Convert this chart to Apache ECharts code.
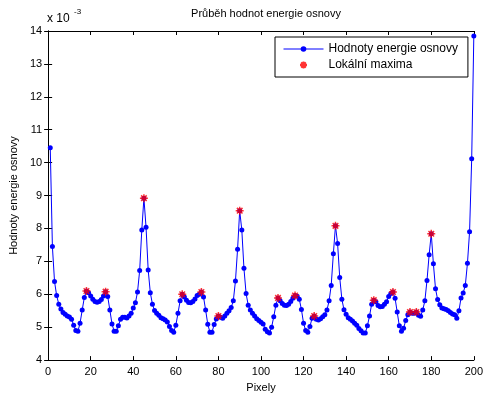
<!DOCTYPE html>
<html><head><meta charset="utf-8">
<script src="https://cdn.jsdelivr.net/npm/echarts@6/dist/echarts.min.js"></script>
<style>html,body{margin:0;padding:0;background:#fff}#c{width:486px;height:398px}</style>
</head><body><div id="c"></div>
<script>
// Energy values (units of 1e-3), pixel 1..200
const energy1 = [10.45,7.45,6.39,5.96,5.70,5.55,5.45,5.39,5.34,5.31,
  5.24,5.06,4.90,4.88,5.12,5.52,5.90,6.10,6.05,5.95,
  5.85,5.78,5.76,5.78,5.84,5.95,6.08,5.93,5.52,5.10,
  4.88,4.88,5.04,5.24,5.30,5.30,5.28,5.34,5.42,5.58,
  5.74,6.07,6.72,7.95,8.92,8.04,6.74,6.05,5.70,5.51];
const energy2 = [5.42,5.36,5.29,5.26,5.22,5.16,5.02,4.90,4.85,5.06,
  5.42,5.80,6.00,5.92,5.82,5.75,5.74,5.78,5.86,5.96,
  6.00,6.07,5.92,5.52,5.09,4.85,4.85,5.08,5.25,5.34,
  5.30,5.27,5.34,5.42,5.50,5.60,5.80,6.40,7.37,8.54,
  7.95,6.79,6.02,5.67,5.52,5.42,5.34,5.26,5.20,5.15];
const energy3 = [5.10,4.94,4.86,4.82,5.00,5.32,5.67,5.89,5.80,5.72,
  5.67,5.66,5.70,5.78,5.88,5.96,5.94,5.85,5.54,5.12,
  4.90,4.85,5.02,5.27,5.34,5.24,5.22,5.26,5.32,5.38,
  5.52,5.80,6.27,7.23,8.08,7.54,6.51,5.85,5.53,5.39,
  5.29,5.24,5.19,5.12,5.06,4.96,4.89,4.82,4.82,5.04];
const energy4 = [5.34,5.70,5.82,5.77,5.66,5.62,5.63,5.70,5.77,5.93,
  6.02,6.07,5.88,5.46,5.04,4.88,4.97,5.20,5.38,5.46,
  5.42,5.42,5.46,5.36,5.33,5.52,5.80,6.42,7.20,7.84,
  6.93,6.17,5.84,5.68,5.58,5.56,5.54,5.50,5.45,5.40,
  5.38,5.27,5.50,5.89,6.04,6.27,6.94,7.90,10.12,13.85];
const maximaX = [18,27,45,63,72,80,90,108,116,125,135,153,162,170,173,180];
const xTicks = [0,20,40,60,80,100,120,140,160,180,200];
const yTicks = [4,5,6,7,8,9,10,11,12,13,14];

const energy = energy1.concat(energy2, energy3, energy4);
const lineData = energy.map((v, i) => [i + 1, v]);
const maxData = maximaX.map(x => [x, energy[x - 1]]);

const FONT = 'Liberation Sans, Arial, Helvetica, sans-serif';
const chart = echarts.init(document.getElementById('c'), null, {renderer: 'canvas'});
const axCommon = {
  axisLine: {show: true, lineStyle: {color: '#000', width: 1}},
  axisTick: {show: true, inside: true, length: 4, lineStyle: {color: '#000'}},
  splitLine: {show: false}
};
chart.setOption({
  animation: false,
  backgroundColor: '#fff',
  textStyle: {fontFamily: FONT},
  title: {
    text: 'Průběh hodnot energie osnovy',
    left: 261, top: 3, textAlign: 'center',
    textStyle: {fontSize: 11, fontWeight: 'normal', color: '#000', fontFamily: FONT}
  },
  grid: {left: 47, right: 12, top: 31, bottom: 34, containLabel: false},
  legend: {
    orient: 'vertical',
    left: 275, top: 37,
    backgroundColor: '#fff',
    borderColor: '#000', borderWidth: 1, borderRadius: 0,
    padding: [6, 10, 6, 8],
    itemWidth: 40, itemHeight: 7, itemGap: 4,
    lineStyle: {width: 1},
    textStyle: {fontSize: 12, color: '#000', fontFamily: FONT},
    data: ['Hodnoty energie osnovy', 'Lokální maxima']
  },
  xAxis: [
    Object.assign({}, axCommon, {
      type: 'value', min: 0, max: 200, interval: 20, position: 'bottom',
      axisLabel: {fontSize: 11, color: '#000', margin: 6, fontFamily: FONT,
        formatter: v => xTicks.includes(v) ? String(v) : ''},
      name: 'Pixely', nameLocation: 'middle', nameGap: 20,
      nameTextStyle: {fontSize: 11, color: '#000', fontFamily: FONT}
    }),
    Object.assign({}, axCommon, {
      type: 'value', min: 0, max: 200, interval: 20, position: 'top',
      axisLabel: {show: false}
    })
  ],
  yAxis: [
    Object.assign({}, axCommon, {
      type: 'value', min: 4, max: 14, interval: 1, position: 'left',
      axisLabel: {fontSize: 11, color: '#000', margin: 6, fontFamily: FONT,
        formatter: v => yTicks.includes(v) ? String(v) : ''},
      name: 'Hodnoty energie osnovy', nameLocation: 'middle', nameGap: 23,
      nameTextStyle: {fontSize: 11, color: '#000', fontFamily: FONT}
    }),
    Object.assign({}, axCommon, {
      type: 'value', min: 4, max: 14, interval: 1, position: 'right',
      axisLabel: {show: false}
    })
  ],
  series: [
    {
      name: 'Hodnoty energie osnovy', type: 'line', data: lineData,
      xAxisIndex: 0, yAxisIndex: 0,
      symbol: 'circle', symbolSize: 5, showAllSymbol: true,
      lineStyle: {color: '#0000ff', width: 1},
      itemStyle: {color: '#0000ff'},
      z: 2
    },
    {
      name: 'Lokální maxima', type: 'scatter', data: maxData,
      xAxisIndex: 0, yAxisIndex: 0,
      symbol: 'path://M0,-10L0,10M-10,0L10,0M-7,-7L7,7M-7,7L7,-7',
      symbolSize: 8,
      itemStyle: {color: 'rgba(0,0,0,0)', borderColor: '#ff0000', borderWidth: 1.5},
      z: 3
    }
  ],
  graphic: [
    {type: 'text', left: 47, top: 13, style: {text: 'x 10', fontSize: 12, fill: '#000', fontFamily: FONT}},
    {type: 'text', left: 74, top: 8, style: {text: '-3', fontSize: 8, fill: '#000', fontFamily: FONT}}
  ]
});
</script></body></html>
